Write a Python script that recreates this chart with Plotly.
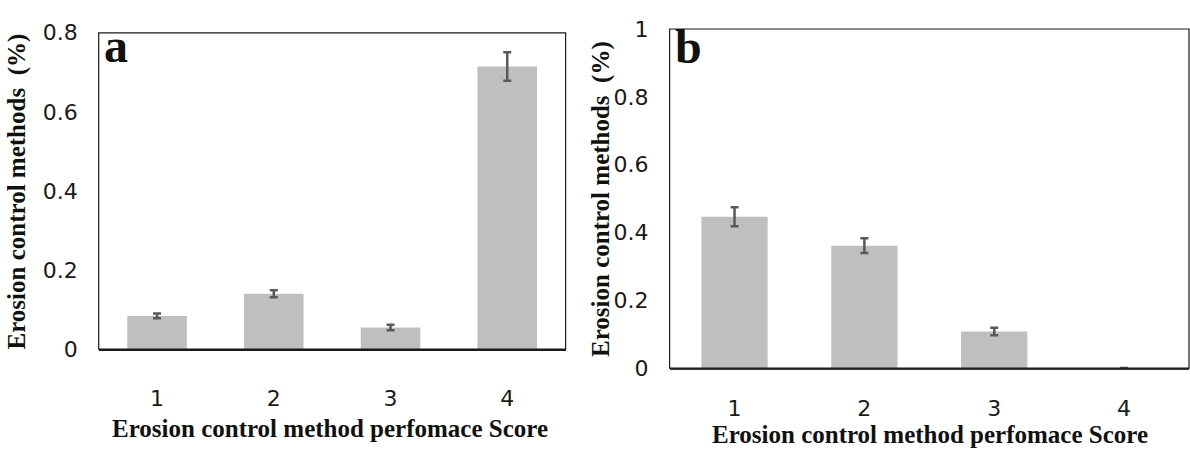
import plotly.graph_objects as go

# Performance score categories
scores = ["1", "2", "3", "4"]

# Panel a: share of erosion control methods per score, with error
share_a = [0.084, 0.140, 0.055, 0.715]
err_a = [0.006, 0.009, 0.007, 0.036]

# Panel b
share_b = [0.446, 0.361, 0.108, 0.0]
err_b = [0.028, 0.022, 0.011, 0.0]

x_title = "Erosion control method perfomace Score"
y_title = "Erosion control methods  (%)"

BAR = "#BFBFBF"
ERR = "#595959"
SERIF = "Liberation Serif, Times New Roman, serif"
SANS = "DejaVu Sans, sans-serif"

fig = go.Figure()

fig.add_trace(go.Bar(
    x=scores, y=share_a, xaxis="x", yaxis="y",
    marker=dict(color=BAR, line=dict(width=0)),
    error_y=dict(type="data", array=err_a, color=ERR, thickness=2.5, width=4),
    showlegend=False,
))
fig.add_trace(go.Bar(
    x=scores, y=share_b, xaxis="x2", yaxis="y2",
    marker=dict(color=BAR, line=dict(width=0)),
    error_y=dict(type="data", array=err_b, color=ERR, thickness=2.5, width=4),
    showlegend=False,
))

W, H = 1190, 450
dom_xa = [98.7 / W, 565.6 / W]
dom_ya = [1 - 357 / H, 1 - 22 / H]
dom_xb = [669.6 / W, 1189.0 / W]
dom_yb = [1 - 377 / H, 1 - 18 / H]

tick_font = dict(family=SANS, size=22, color="#1a1a1a")

fig.update_layout(
    width=W, height=H,
    margin=dict(l=0, r=0, t=0, b=0),
    paper_bgcolor="white", plot_bgcolor="white",
    bargap=0.49,
    xaxis=dict(domain=dom_xa, anchor="y", type="category",
               showline=True, linecolor="#1a1a1a", linewidth=2,
               ticks="", tickfont=tick_font, ticklabelstandoff=28,
               showgrid=False, zeroline=False),
    yaxis=dict(domain=dom_ya, anchor="x", range=[0, 0.8],
               tickvals=[0, 0.2, 0.4, 0.6, 0.8],
               ticktext=["0", "0.2", "0.4", "0.6", "0.8"],
               showline=False, ticks="", tickfont=tick_font,
               ticklabelstandoff=20, showgrid=False, zeroline=False),
    xaxis2=dict(domain=dom_xb, anchor="y2", type="category",
                showline=True, linecolor="#3a3a3a", linewidth=2,
                ticks="", tickfont=tick_font, ticklabelstandoff=20,
                showgrid=False, zeroline=False),
    yaxis2=dict(domain=dom_yb, anchor="x2", range=[0, 1],
                tickvals=[0, 0.2, 0.4, 0.6, 0.8, 1],
                ticktext=["0", "0.2", "0.4", "0.6", "0.8", "1"],
                showline=False, ticks="", tickfont=tick_font,
                ticklabelstandoff=20, showgrid=False, zeroline=False),
)

# Panel frames
for xr, yr in (("x", "y"), ("x2", "y2")):
    fig.add_shape(type="rect", xref=f"{xr} domain", yref=f"{yr} domain",
                  x0=0, x1=1, y0=0, y1=1, layer="above",
                  line=dict(color="#1a1a1a", width=1.2))

title_font = dict(family=SERIF, size=25, color="#111111", weight="bold")
letter_font = dict(family=SERIF, size=48, color="#111111", weight="bold")


def label(text, px, py, font, angle=0):
    fig.add_annotation(text=text, xref="paper", yref="paper",
                       x=px / W, y=1 - py / H, xanchor="center",
                       yanchor="middle", textangle=angle,
                       showarrow=False, font=font)


# Axis titles and panel letters
label(x_title, 330, 441, title_font)
label(x_title, 929.5, 447, title_font)
label(y_title, 17, 190, title_font, -90)
label(y_title, 601, 198, title_font, -90)
label("a", 116, 36, letter_font)
label("b", 688, 37, letter_font)

fig.write_html("out.html")
